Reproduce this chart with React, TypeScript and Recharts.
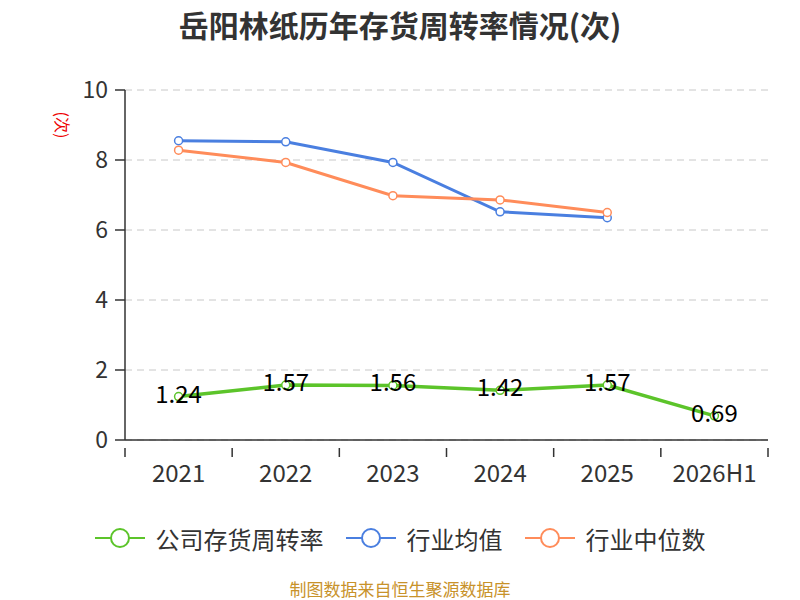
import React from 'react';
import { LineChart, Line, XAxis, YAxis, CartesianGrid, LabelList } from 'recharts';

const years = ['2021', '2022', '2023', '2024', '2025', '2026H1'];
const companyTurnover = [1.24, 1.57, 1.56, 1.42, 1.57, 0.69];
const industryMean = [8.55, 8.52, 7.93, 6.52, 6.35, null];
const industryMedian = [8.28, 7.93, 6.98, 6.86, 6.5, null];
const yTicks = [0, 2, 4, 6, 8, 10];

const GREEN = '#5cc42a';
const BLUE = '#4a7fe0';
const ORANGE = '#ff8c5a';
const FONT = '"Noto Sans CJK SC", "Noto Sans", sans-serif';

const legendItems = [
  { name: '公司存货周转率', color: GREEN },
  { name: '行业均值', color: BLUE },
  { name: '行业中位数', color: ORANGE },
];

const data = years.map((year, i) => ({
  year,
  company: companyTurnover[i],
  mean: industryMean[i],
  median: industryMedian[i],
}));

const BAND = (768 - 125) / years.length;

// category tick: label in the middle, tick marks on band edges
const renderXTick = (props: any) => {
  const { x, y, payload, index } = props;
  return (
    <g>
      <line x1={x - BAND / 2} y1={y} x2={x - BAND / 2} y2={y + 9} stroke="#333" strokeWidth={1.5} />
      {index === years.length - 1 && (
        <line x1={x + BAND / 2} y1={y} x2={x + BAND / 2} y2={y + 9} stroke="#333" strokeWidth={1.5} />
      )}
      <text x={x} y={y + 34} textAnchor="middle" fill="#333" fontSize={24} fontFamily={FONT}>
        {payload.value}
      </text>
    </g>
  );
};

const renderYTick = (props: any) => {
  const { x, y, payload } = props;
  return (
    <text x={x - 5} y={y} dy={8} textAnchor="end" fill="#333" fontSize={23} fontFamily={FONT}>
      {payload.value}
    </text>
  );
};

const renderValueLabel = (props: any) => {
  const { x, y, value } = props;
  return (
    <text x={x} y={y} dy={6} textAnchor="middle" fill="#000" fontSize={24} fontFamily={FONT}>
      {value}
    </text>
  );
};

const dot = (color: string) => ({ r: 4, fill: '#fff', stroke: color, strokeWidth: 1.5 });

const App: React.FC = () => {
  return (
    <div style={{ position: 'absolute', left: 0, top: 0, width: 800, height: 600, background: '#fff', fontFamily: FONT }}>
      <div style={{ position: 'absolute', top: 4, width: 800, textAlign: 'center', fontSize: 30, lineHeight: '40px', fontWeight: 'bold', color: '#333' }}>
        岳阳林纸历年存货周转率情况(次)
      </div>
      <LineChart width={800} height={600} data={data} margin={{ top: 90, right: 32, left: 65, bottom: 130 }}>
        <CartesianGrid vertical={false} stroke="#c8c8c8" strokeDasharray="7 5" />
        <XAxis
          dataKey="year"
          scale="band"
          axisLine={{ stroke: '#333', strokeWidth: 1.5 }}
          tickLine={false}
          tick={renderXTick}
          interval={0}
          height={30}
        />
        <YAxis
          domain={[0, 10]}
          ticks={yTicks}
          width={60}
          axisLine={{ stroke: '#333', strokeWidth: 1.5 }}
          tickLine={{ stroke: '#333', strokeWidth: 1.5 }}
          tickSize={10}
          tick={renderYTick}
          label={{
            content: () => (
              <text x={63} y={125} transform="rotate(90 63 125)" textAnchor="middle" dominantBaseline="central" fill="#e00" fontSize={16} fontFamily={FONT}>
                (次)
              </text>
            ),
          }}
        />
        <Line dataKey="mean" stroke={BLUE} strokeWidth={3} dot={dot(BLUE)} activeDot={false} isAnimationActive={false} />
        <Line dataKey="median" stroke={ORANGE} strokeWidth={3} dot={dot(ORANGE)} activeDot={false} isAnimationActive={false} />
        <Line dataKey="company" stroke={GREEN} strokeWidth={3.5} dot={dot(GREEN)} activeDot={false} isAnimationActive={false}>
          <LabelList dataKey="company" content={renderValueLabel} />
        </Line>
      </LineChart>
      <div style={{ position: 'absolute', top: 522, left: 0, width: 800, display: 'flex', justifyContent: 'center', gap: 22 }}>
        {legendItems.map((item) => (
          <div key={item.name} style={{ display: 'flex', alignItems: 'center', height: 32 }}>
            <svg width={50} height={24}>
              <line x1={0} y1={12} x2={50} y2={12} stroke={item.color} strokeWidth={2} />
              <circle cx={25} cy={12} r={9} fill="#fff" stroke={item.color} strokeWidth={2} />
            </svg>
            <span style={{ marginLeft: 11, fontSize: 24, color: '#333' }}>{item.name}</span>
          </div>
        ))}
      </div>
      <div style={{ position: 'absolute', top: 577, width: 800, textAlign: 'center', fontSize: 17, lineHeight: '24px', color: '#c8922a' }}>
        制图数据来自恒生聚源数据库
      </div>
    </div>
  );
};

export default App;
